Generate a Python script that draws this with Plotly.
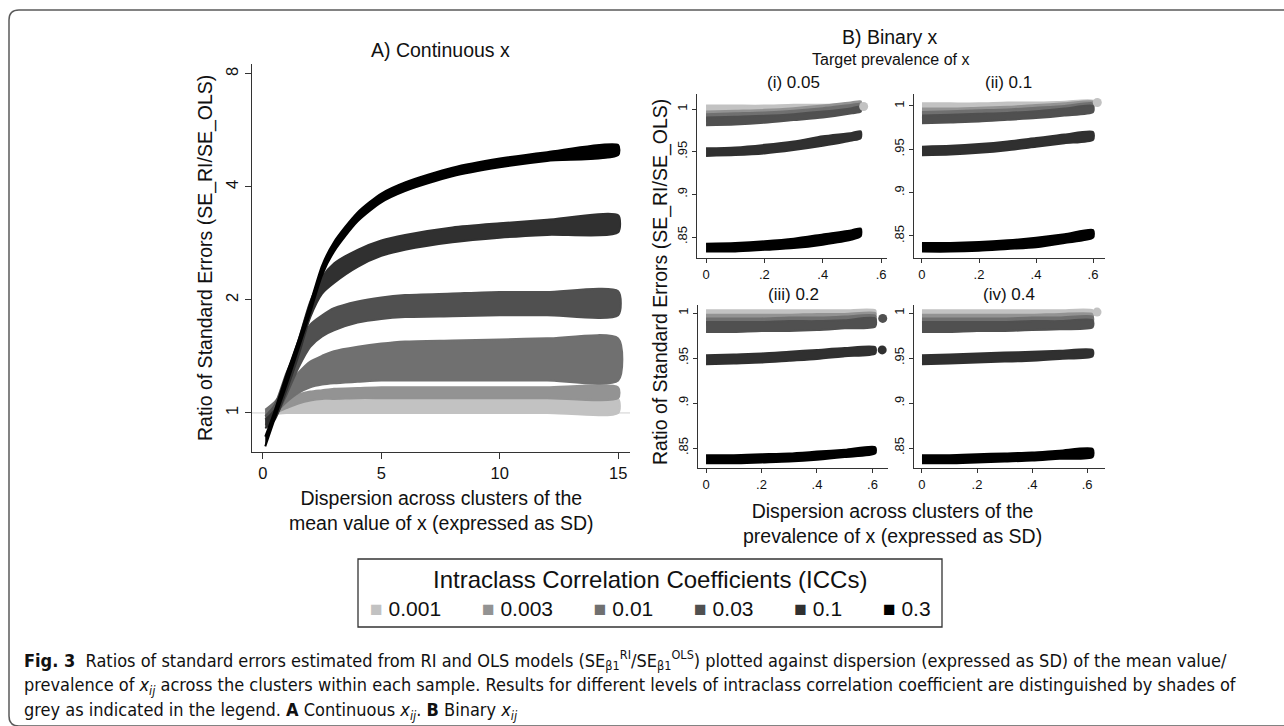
import math
import plotly.graph_objects as go

W, H = 1284, 726

# ---------------- data ----------------
ICC_LABELS = ['0.001', '0.003', '0.01', '0.03', '0.1', '0.3']
ICC_COLORS = ['#c2c2c2', '#939393', '#707070', '#505050', '#303030', '#000000']

# Panel A: continuous x  (band lower / upper edge of the point cloud)
A_x = [0.1, 0.5, 1, 1.5, 2, 2.5, 3, 4, 5, 6, 8, 10, 12, 15]
A_lo_0001 = [0.99, 0.995, 1.0, 1.0, 1.0, 1.0, 1.0, 1.0, 1.0, 1.0, 1.0, 1.0, 1.0, 1.0]
A_hi_0001 = [1.01, 1.03, 1.05, 1.065, 1.075, 1.08, 1.085, 1.088, 1.09, 1.09, 1.09, 1.09, 1.09, 1.09]
A_lo_0003 = [0.99, 1.0, 1.03, 1.06, 1.08, 1.09, 1.09, 1.095, 1.095, 1.095, 1.095, 1.095, 1.095, 1.095]
A_hi_0003 = [1.01, 1.04, 1.09, 1.12, 1.14, 1.15, 1.16, 1.165, 1.17, 1.17, 1.17, 1.17, 1.17, 1.17]
A_lo_001 = [0.98, 1.0, 1.07, 1.13, 1.17, 1.19, 1.2, 1.21, 1.22, 1.22, 1.22, 1.22, 1.22, 1.22]
A_hi_001 = [1.02, 1.07, 1.17, 1.28, 1.37, 1.42, 1.46, 1.5, 1.53, 1.55, 1.56, 1.57, 1.58, 1.58]
A_lo_003 = [0.93, 0.97, 1.12, 1.32, 1.5, 1.6, 1.66, 1.74, 1.78, 1.8, 1.81, 1.82, 1.82, 1.82]
A_hi_003 = [0.98, 1.05, 1.28, 1.5, 1.72, 1.82, 1.9, 1.98, 2.03, 2.06, 2.08, 2.1, 2.1, 2.11]
A_lo_01 = [0.91, 0.96, 1.15, 1.42, 1.8, 2.08, 2.22, 2.45, 2.62, 2.72, 2.85, 2.93, 2.98, 3.03]
A_hi_01 = [0.96, 1.02, 1.26, 1.56, 1.98, 2.3, 2.5, 2.72, 2.88, 2.98, 3.12, 3.2, 3.27, 3.36]
A_lo_03 = [0.815, 0.965, 1.19, 1.48, 1.85, 2.33, 2.69, 3.24, 3.64, 3.9, 4.27, 4.51, 4.69, 4.86]
A_hi_03 = [0.865, 1.015, 1.27, 1.56, 1.96, 2.47, 2.85, 3.42, 3.84, 4.11, 4.5, 4.76, 4.95, 5.17]
A_lo = [A_lo_0001, A_lo_0003, A_lo_001, A_lo_003, A_lo_01, A_lo_03]
A_hi = [A_hi_0001, A_hi_0003, A_hi_001, A_hi_003, A_hi_01, A_hi_03]

# Panel B (i) target prevalence 0.05
B1_x = [0, 0.1, 0.2, 0.3, 0.4, 0.5, 0.53]
B1_lo = [[0.996, 0.996, 0.997, 0.998, 0.999, 1.000, 1.001],
         [0.992, 0.993, 0.994, 0.996, 0.998, 1.002, 1.003],
         [0.986, 0.987, 0.989, 0.991, 0.994, 0.998, 1.000],
         [0.981, 0.982, 0.984, 0.987, 0.990, 0.995, 0.997],
         [0.945, 0.946, 0.948, 0.952, 0.957, 0.963, 0.966],
         [0.833, 0.833, 0.835, 0.837, 0.841, 0.847, 0.851]]
B1_hi = [[1.004, 1.004, 1.004, 1.005, 1.005, 1.006, 1.006],
         [0.997, 0.998, 0.999, 1.001, 1.004, 1.008, 1.009],
         [0.994, 0.995, 0.996, 0.998, 1.001, 1.005, 1.006],
         [0.990, 0.991, 0.992, 0.994, 0.997, 1.001, 1.003],
         [0.954, 0.955, 0.958, 0.962, 0.968, 0.972, 0.974],
         [0.842, 0.843, 0.845, 0.848, 0.853, 0.858, 0.860]]
B1_dot_x = [0.54]
B1_dot_y = [1.003]
B1_dot_icc = [0]

# Panel B (ii) target prevalence 0.1
B2_x = [0, 0.1, 0.2, 0.3, 0.4, 0.5, 0.6]
B2_lo = [[0.996, 0.996, 0.997, 0.998, 0.999, 1.000, 1.001],
         [0.992, 0.993, 0.994, 0.995, 0.997, 0.999, 1.001],
         [0.986, 0.987, 0.988, 0.990, 0.992, 0.995, 0.998],
         [0.980, 0.981, 0.982, 0.984, 0.986, 0.989, 0.993],
         [0.943, 0.944, 0.946, 0.949, 0.953, 0.957, 0.961],
         [0.832, 0.832, 0.833, 0.835, 0.837, 0.842, 0.848]]
B2_hi = [[1.003, 1.003, 1.003, 1.004, 1.004, 1.005, 1.006],
         [0.997, 0.997, 0.998, 0.999, 1.001, 1.003, 1.005],
         [0.993, 0.994, 0.995, 0.996, 0.998, 1.000, 1.003],
         [0.989, 0.990, 0.991, 0.992, 0.994, 0.997, 1.000],
         [0.953, 0.954, 0.956, 0.959, 0.963, 0.967, 0.970],
         [0.842, 0.842, 0.843, 0.845, 0.848, 0.852, 0.857]]
B2_dot_x = [0.615]
B2_dot_y = [1.004]
B2_dot_icc = [0]

# Panel B (iii) target prevalence 0.2
B3_x = [0, 0.1, 0.2, 0.3, 0.4, 0.5, 0.61]
B3_lo = [[0.996, 0.996, 0.996, 0.997, 0.997, 0.998, 0.998],
         [0.993, 0.993, 0.993, 0.994, 0.994, 0.995, 0.996],
         [0.987, 0.987, 0.988, 0.988, 0.989, 0.990, 0.991],
         [0.979, 0.979, 0.980, 0.980, 0.981, 0.983, 0.985],
         [0.943, 0.944, 0.945, 0.947, 0.949, 0.952, 0.955],
         [0.833, 0.833, 0.834, 0.835, 0.837, 0.840, 0.844]]
B3_hi = [[1.003, 1.003, 1.003, 1.003, 1.003, 1.003, 1.003],
         [0.998, 0.998, 0.998, 0.998, 0.999, 0.999, 1.000],
         [0.994, 0.994, 0.994, 0.995, 0.995, 0.996, 0.997],
         [0.990, 0.990, 0.990, 0.991, 0.991, 0.992, 0.994],
         [0.953, 0.954, 0.955, 0.957, 0.959, 0.961, 0.962],
         [0.842, 0.842, 0.843, 0.844, 0.846, 0.848, 0.851]]
B3_dot_x = [0.637, 0.635]
B3_dot_y = [0.994, 0.959]
B3_dot_icc = [3, 4]

# Panel B (iv) target prevalence 0.4
B4_x = [0, 0.1, 0.2, 0.3, 0.4, 0.5, 0.62]
B4_lo = [[0.996, 0.996, 0.996, 0.997, 0.997, 0.998, 0.998],
         [0.993, 0.993, 0.993, 0.994, 0.994, 0.995, 0.995],
         [0.987, 0.987, 0.988, 0.988, 0.989, 0.989, 0.990],
         [0.979, 0.979, 0.980, 0.980, 0.981, 0.982, 0.984],
         [0.943, 0.944, 0.945, 0.946, 0.947, 0.949, 0.952],
         [0.833, 0.833, 0.834, 0.835, 0.836, 0.838, 0.840]]
B4_hi = [[1.003, 1.003, 1.003, 1.003, 1.003, 1.003, 1.003],
         [0.998, 0.998, 0.998, 0.998, 0.998, 0.999, 0.999],
         [0.994, 0.994, 0.994, 0.994, 0.995, 0.995, 0.996],
         [0.990, 0.990, 0.990, 0.990, 0.991, 0.991, 0.992],
         [0.953, 0.954, 0.955, 0.956, 0.957, 0.958, 0.959],
         [0.842, 0.842, 0.843, 0.844, 0.845, 0.847, 0.849]]
B4_dot_x = [0.636]
B4_dot_y = [1.001]
B4_dot_icc = [0]

A_xticks = [0, 5, 10, 15]
A_yticks = [1, 2, 4, 8]
B_xticks = [0, 0.2, 0.4, 0.6]
B_xticktext = ['0', '.2', '.4', '.6']
B_yticks = [0.85, 0.9, 0.95, 1]
B_yticktext = ['.85', '.9', '.95', '1']
B_subtitles = ['(i) 0.05', '(ii) 0.1', '(iii) 0.2', '(iv) 0.4']

# ---------------- helpers ----------------
def px(x):
    return x / W

def py(y):
    return 1 - y / H

fig = go.Figure()

def add_band(xs, lo, hi, color, xa, ya, name):
    fig.add_trace(go.Scatter(
        x=list(xs) + list(xs)[::-1], y=list(hi) + list(lo)[::-1],
        mode='lines', fill='toself', fillcolor=color,
        line=dict(color=color, width=2, shape='spline', smoothing=0.7),
        xaxis=xa, yaxis=ya, name=name, showlegend=False, hoverinfo='skip'))

for i in range(6):
    add_band(A_x, A_lo[i], A_hi[i], ICC_COLORS[i], 'x', 'y', ICC_LABELS[i])

panels = [
    (B1_x, B1_lo, B1_hi, B1_dot_x, B1_dot_y, B1_dot_icc, 'x2', 'y2'),
    (B2_x, B2_lo, B2_hi, B2_dot_x, B2_dot_y, B2_dot_icc, 'x3', 'y3'),
    (B3_x, B3_lo, B3_hi, B3_dot_x, B3_dot_y, B3_dot_icc, 'x4', 'y4'),
    (B4_x, B4_lo, B4_hi, B4_dot_x, B4_dot_y, B4_dot_icc, 'x5', 'y5'),
]
for xs, los, his, dx, dy, dicc, xa, ya in panels:
    for i in range(6):
        add_band(xs, los[i], his[i], ICC_COLORS[i], xa, ya, ICC_LABELS[i])
    fig.add_trace(go.Scatter(
        x=dx, y=dy, mode='markers', xaxis=xa, yaxis=ya, showlegend=False,
        marker=dict(size=9, color=[ICC_COLORS[k] for k in dicc]), hoverinfo='skip'))

# ---------------- axes ----------------
AX = dict(showline=True, linecolor='#333333', linewidth=1, ticks='outside',
          ticklen=5, tickcolor='#333333', showgrid=False, zeroline=False)
FONT = 'Liberation Sans, Arial, sans-serif'

layout = dict(
    width=W, height=H, autosize=False,
    margin=dict(l=0, r=0, t=0, b=0),
    paper_bgcolor='white', plot_bgcolor='white',
    font=dict(family=FONT, color='#111111'),
    showlegend=False,
)
layout['xaxis'] = dict(AX, domain=[px(252), px(630)], range=[-0.46, 15.5], anchor='y',
                       tickvals=A_xticks, tickfont=dict(size=16.5), ticklen=6)
layout['yaxis'] = dict(AX, domain=[py(452), py(64)], type='log',
                       range=[math.log10(0.787), math.log10(8.5)], anchor='x',
                       tickvals=A_yticks, ticktext=[str(v) for v in A_yticks],
                       tickangle=-90, tickfont=dict(size=16.5), ticklen=6)

B_dom = [
    ([697, 887], [-0.031, 0.62], [94, 258], [0.8254, 1.0176]),
    ([914, 1105], [-0.028, 0.642], [94, 258], [0.8246, 1.0138]),
    ([698, 888], [-0.029, 0.656], [305, 468], [0.8278, 1.0089]),
    ([914, 1105], [-0.029, 0.665], [305, 468], [0.8278, 1.0089]),
]
for k, (xd, xr, yd, yr) in enumerate(B_dom):
    n = k + 2
    layout['xaxis%d' % n] = dict(AX, domain=[px(xd[0]), px(xd[1])], range=xr,
                                 anchor='y%d' % n, tickvals=B_xticks, ticktext=B_xticktext,
                                 tickfont=dict(size=13), ticklen=4)
    layout['yaxis%d' % n] = dict(AX, domain=[py(yd[1]), py(yd[0])], range=yr,
                                 anchor='x%d' % n, tickvals=B_yticks, ticktext=B_yticktext,
                                 tickangle=-90, tickfont=dict(size=13), ticklen=4)

fig.update_layout(**layout)

# reference line at 1 in panel A
fig.add_shape(type='line', xref='x domain', yref='y', x0=0, x1=1, y0=1, y1=1,
              line=dict(color='#cfcfcf', width=1), layer='below')

# ---------------- texts ----------------
def ann(text, x, y, size, angle=0, xanchor='center', yanchor='middle', family=FONT, align='center'):
    fig.add_annotation(text=text, x=px(x), y=py(y), xref='paper', yref='paper',
                       showarrow=False, textangle=angle, xanchor=xanchor, yanchor=yanchor,
                       align=align, font=dict(size=size, family=family, color='#111111'))

ann('A) Continuous x', 440, 50, 19.5)
ann('Ratio of Standard Errors (SE_RI/SE_OLS)', 206, 258, 19.5, angle=-90)
ann('Dispersion across clusters of the<br>mean value of x (expressed as SD)', 441, 510, 19.5)

ann('B) Binary x', 890, 37, 19.5)
ann('Target prevalence of x', 890, 60, 16)
sub_pos = [(793, 83), (1009, 83), (793, 294), (1009, 294)]
for t, (sx, sy) in zip(B_subtitles, sub_pos):
    ann(t, sx, sy, 17)
ann('Ratio of Standard Errors (SE_RI/SE_OLS)', 660, 282, 19.5, angle=-90)
ann('Dispersion across clusters of the<br>prevalence of x (expressed as SD)', 892, 523, 19.5)

# legend
fig.add_shape(type='rect', xref='paper', yref='paper', x0=px(358), x1=px(942),
              y0=py(627), y1=py(559), line=dict(color='#333333', width=1.3))
ann('Intraclass Correlation Coefficients (ICCs)', 650, 579, 24)
sep = '&nbsp;' * 7
items = sep.join("<span style='color:%s'>■</span>&nbsp;%s" % (c, l)
                 for c, l in zip(ICC_COLORS, ICC_LABELS))
ann(items, 650, 608, 21)

# caption
CAP = 'Liberation Sans Narrow, DejaVu Sans Condensed, Arial Narrow, sans-serif'
cap1 = ("<b>Fig. 3</b>&nbsp; Ratios of standard errors estimated from RI and OLS models "
        "(SE<sub>β1</sub><sup>RI</sup>/SE<sub>β1</sub><sup>OLS</sup>) plotted against dispersion "
        "(expressed as SD) of the mean value/")
cap2 = ("prevalence of <i>x<sub>ij</sub></i> across the clusters within each sample. Results for "
        "different levels of intraclass correlation coefficient are distinguished by shades of")
cap3 = ("grey as indicated in the legend. <b>A</b> Continuous <i>x<sub>ij</sub></i>. "
        "<b>B</b> Binary <i>x<sub>ij</sub></i>")
ann(cap1, 22, 660, 18, xanchor='left', family=CAP, align='left')
ann(cap2, 22, 686, 18, xanchor='left', family=CAP, align='left')
ann(cap3, 22, 711, 18, xanchor='left', family=CAP, align='left')

# outer frame (open on the right)
r = 10
path = ('M %f,%f L %f,%f Q %f,%f %f,%f L %f,%f Q %f,%f %f,%f L %f,%f' % (
    px(1284), py(10), px(9 + r), py(10), px(9), py(10), px(9), py(10 + r),
    px(9), py(726 - r), px(9), py(726), px(9 + r), py(726), px(1284), py(726)))
fig.add_shape(type='path', xref='paper', yref='paper', path=path,
              line=dict(color='#5a5a5a', width=1.5))

fig.write_html('out.html')
